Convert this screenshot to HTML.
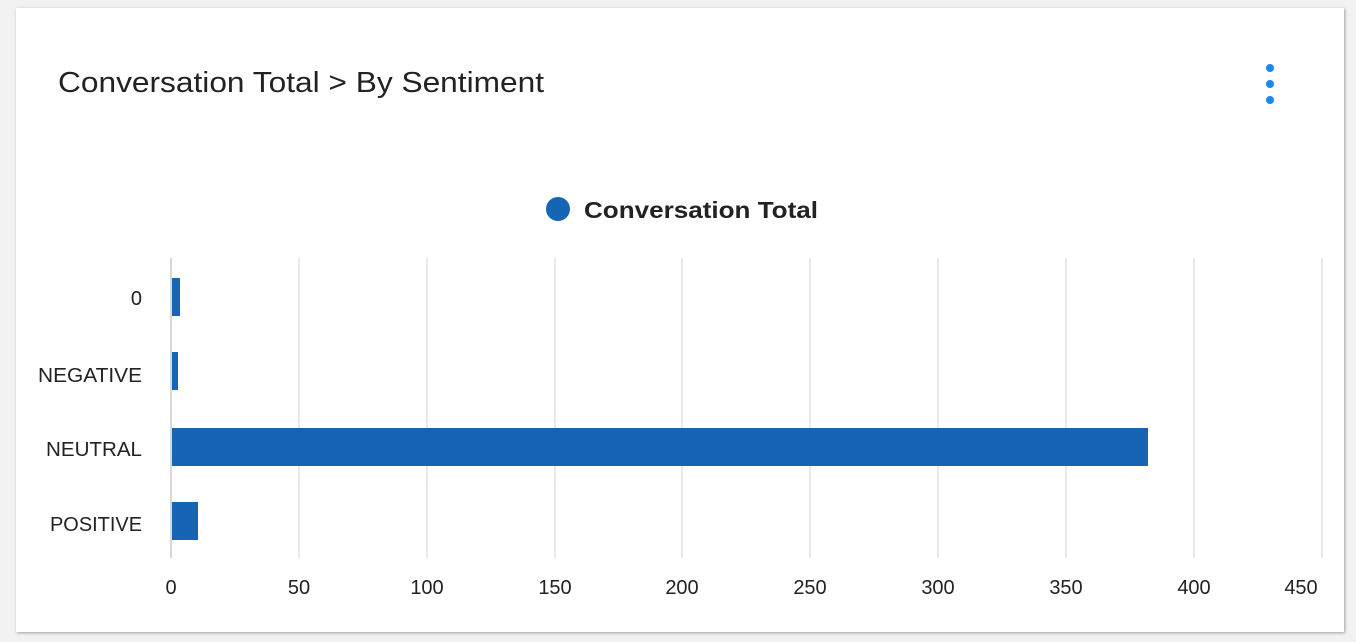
<!DOCTYPE html>
<html><head><style>
body{margin:0;width:1356px;height:642px;background:#f2f2f2;overflow:hidden;font-family:"Liberation Sans",sans-serif;}
.card{position:absolute;left:16px;top:8px;width:1328px;height:624px;background:#fff;box-shadow:1px 1px 3px rgba(0,0,0,0.35);}
</style></head><body>
<div class="card"></div>
<svg width="1356" height="642" style="position:absolute;left:0;top:0" font-family="Liberation Sans, sans-serif">
<text x="58" y="92" font-size="29" fill="#222" textLength="486" lengthAdjust="spacingAndGlyphs">Conversation Total &gt; By Sentiment</text>
<circle cx="1270" cy="68" r="4" fill="#1e88e5"/><circle cx="1270" cy="84" r="4" fill="#1e88e5"/><circle cx="1270" cy="100" r="4" fill="#1e88e5"/>
<circle cx="558" cy="209" r="12" fill="#1565b4"/>
<text x="584" y="218" font-size="23" font-weight="bold" fill="#222" textLength="234" lengthAdjust="spacingAndGlyphs">Conversation Total</text>
<g stroke="#e2e2e2" stroke-width="1.5">
<line x1="299" y1="258" x2="299" y2="558"/><line x1="427" y1="258" x2="427" y2="558"/><line x1="555" y1="258" x2="555" y2="558"/><line x1="682" y1="258" x2="682" y2="558"/><line x1="810" y1="258" x2="810" y2="558"/><line x1="938" y1="258" x2="938" y2="558"/><line x1="1066" y1="258" x2="1066" y2="558"/><line x1="1194" y1="258" x2="1194" y2="558"/><line x1="1322" y1="258" x2="1322" y2="558"/>
</g>
<line x1="171" y1="258" x2="171" y2="558" stroke="#ccc" stroke-width="1.5"/>
<g fill="#1565b4">
<rect x="172" y="278" width="8" height="38"/>
<rect x="172" y="352" width="6" height="38"/>
<rect x="172" y="428" width="976" height="38"/>
<rect x="172" y="502" width="26" height="38"/>
</g>
<g font-size="20" fill="#222" text-anchor="end">
<text x="142" y="305">0</text><text x="142" y="382" textLength="104" lengthAdjust="spacingAndGlyphs">NEGATIVE</text><text x="142" y="456" textLength="96" lengthAdjust="spacingAndGlyphs">NEUTRAL</text><text x="142" y="531" textLength="92" lengthAdjust="spacingAndGlyphs">POSITIVE</text>
</g>
<g font-size="20" fill="#222" text-anchor="middle">
<text x="171" y="594">0</text><text x="299" y="594">50</text><text x="427" y="594">100</text><text x="555" y="594">150</text><text x="682" y="594">200</text><text x="810" y="594">250</text><text x="938" y="594">300</text><text x="1066" y="594">350</text><text x="1194" y="594">400</text><text x="1301" y="594">450</text>
</g>
</svg>
</body></html>
